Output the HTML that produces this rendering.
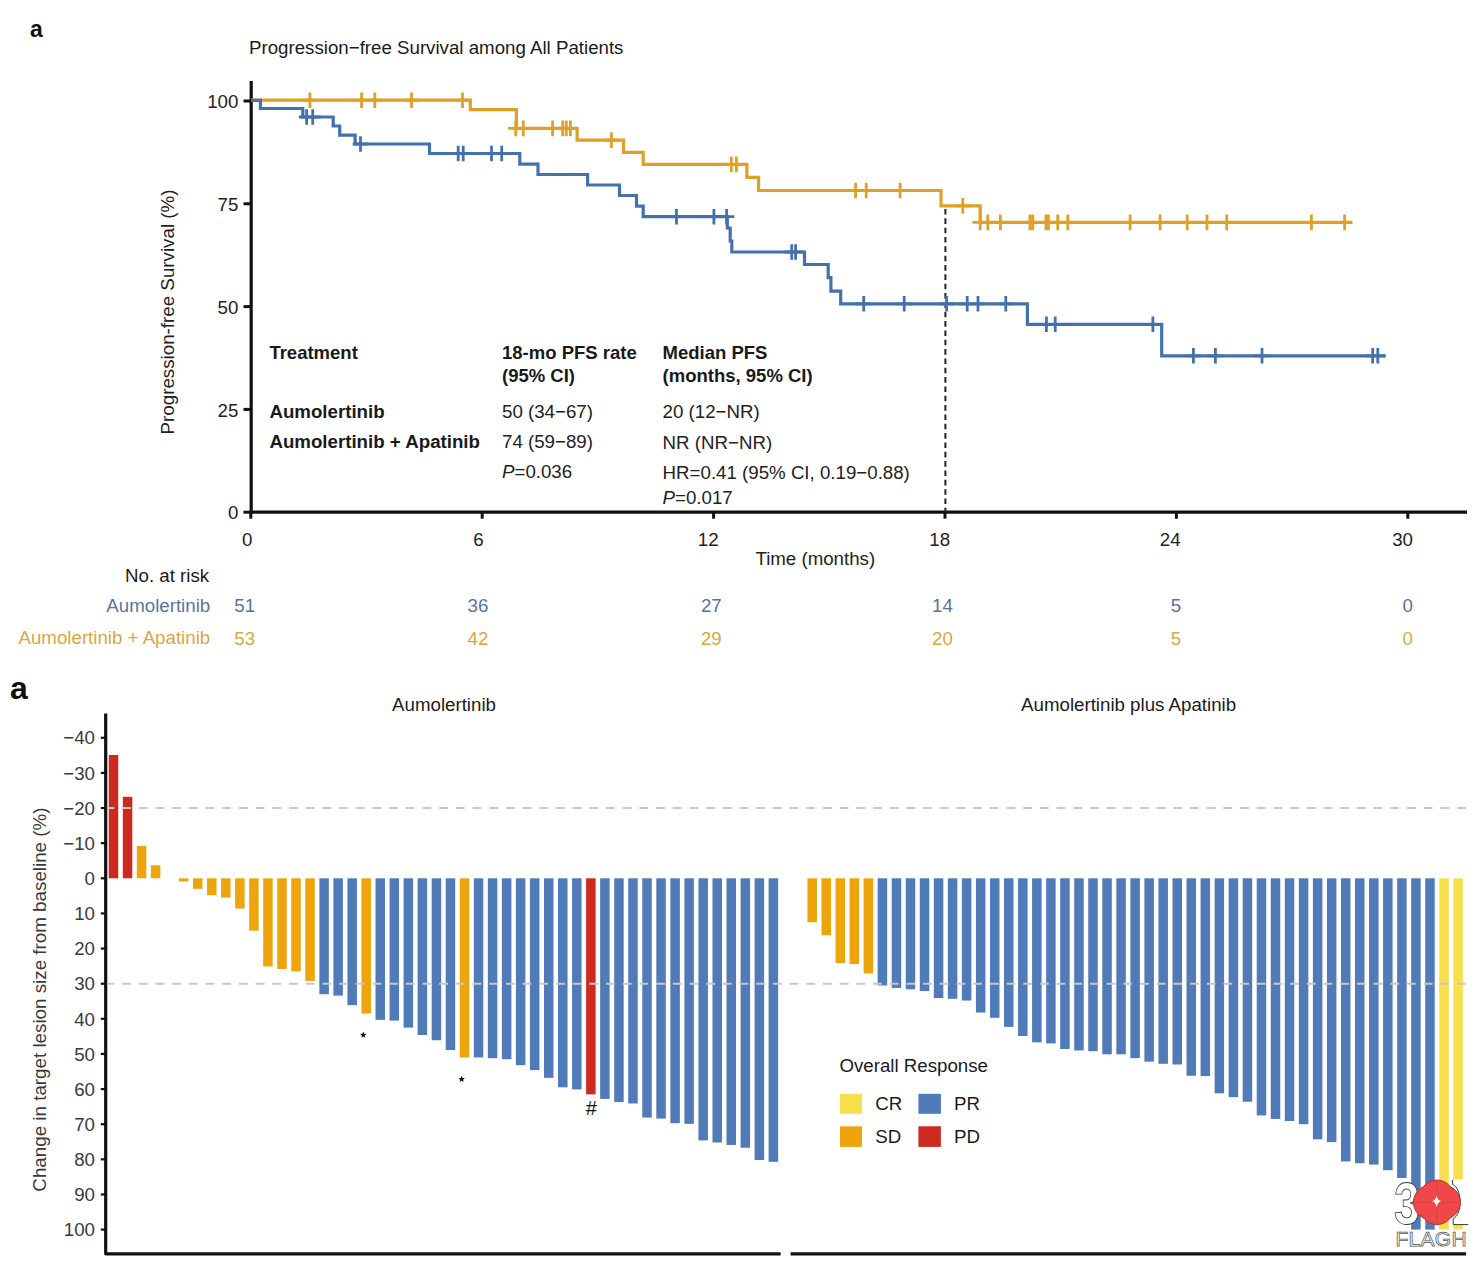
<!DOCTYPE html>
<html><head><meta charset="utf-8"><style>
html,body{margin:0;padding:0;background:#fff;}
svg{display:block;font-family:"Liberation Sans", sans-serif;}
</style></head><body>
<svg width="1484" height="1280" viewBox="0 0 1484 1280">
<rect width="1484" height="1280" fill="#fff"/>
<text x="30" y="37.2" font-size="23" text-anchor="start" font-weight="bold" fill="#111"  >a</text>
<text x="249" y="53.5" font-size="18.7" text-anchor="start" font-weight="normal" fill="#1a1a1a"  >Progression&#8722;free Survival among All Patients</text>
<line x1="251.2" y1="81" x2="251.2" y2="513.7" stroke="#111" stroke-width="3.2"/>
<line x1="249.7" y1="512.2" x2="1467" y2="512.2" stroke="#111" stroke-width="3.2"/>
<line x1="243.5" y1="101.0" x2="251.2" y2="101.0" stroke="#111" stroke-width="3"/>
<text x="238.4" y="108.2" font-size="18.7" text-anchor="end" font-weight="normal" fill="#222"  >100</text>
<line x1="243.5" y1="203.8" x2="251.2" y2="203.8" stroke="#111" stroke-width="3"/>
<text x="238.4" y="211.0" font-size="18.7" text-anchor="end" font-weight="normal" fill="#222"  >75</text>
<line x1="243.5" y1="306.6" x2="251.2" y2="306.6" stroke="#111" stroke-width="3"/>
<text x="238.4" y="313.8" font-size="18.7" text-anchor="end" font-weight="normal" fill="#222"  >50</text>
<line x1="243.5" y1="409.40000000000003" x2="251.2" y2="409.40000000000003" stroke="#111" stroke-width="3"/>
<text x="238.4" y="416.6" font-size="18.7" text-anchor="end" font-weight="normal" fill="#222"  >25</text>
<line x1="243.5" y1="512.2" x2="251.2" y2="512.2" stroke="#111" stroke-width="3"/>
<text x="238.4" y="519.4000000000001" font-size="18.7" text-anchor="end" font-weight="normal" fill="#222"  >0</text>
<line x1="250.8" y1="512.2" x2="250.8" y2="518.7" stroke="#111" stroke-width="3"/>
<text x="247.2" y="546.4" font-size="18.7" text-anchor="middle" font-weight="normal" fill="#222"  >0</text>
<line x1="482.20000000000005" y1="512.2" x2="482.20000000000005" y2="518.7" stroke="#111" stroke-width="3"/>
<text x="478.4" y="546.4" font-size="18.7" text-anchor="middle" font-weight="normal" fill="#222"  >6</text>
<line x1="713.6" y1="512.2" x2="713.6" y2="518.7" stroke="#111" stroke-width="3"/>
<text x="708.2" y="546.4" font-size="18.7" text-anchor="middle" font-weight="normal" fill="#222"  >12</text>
<line x1="945.0" y1="512.2" x2="945.0" y2="518.7" stroke="#111" stroke-width="3"/>
<text x="939.7" y="546.4" font-size="18.7" text-anchor="middle" font-weight="normal" fill="#222"  >18</text>
<line x1="1176.4" y1="512.2" x2="1176.4" y2="518.7" stroke="#111" stroke-width="3"/>
<text x="1170.2" y="546.4" font-size="18.7" text-anchor="middle" font-weight="normal" fill="#222"  >24</text>
<line x1="1407.8" y1="512.2" x2="1407.8" y2="518.7" stroke="#111" stroke-width="3"/>
<text x="1402.6" y="546.4" font-size="18.7" text-anchor="middle" font-weight="normal" fill="#222"  >30</text>
<text x="815.3" y="564.7" font-size="18.7" text-anchor="middle" font-weight="normal" fill="#222"  >Time (months)</text>
<text transform="translate(174.0,312.0) rotate(-90)" font-size="18.75" text-anchor="middle" fill="#222">Progression-free Survival (%)</text>
<line x1="945.4" y1="209" x2="945.4" y2="512.2" stroke="#222" stroke-width="2" stroke-dasharray="5.6,3.7375"/>
<path d="M251.2,100.2 L470.3,100.2 L470.3,109.6 L516.4,109.6 L516.4,128.4 L577.1,128.4 L577.1,140.1 L623.5,140.1 L623.5,152.3 L643.2,152.3 L643.2,164.4 L746.9,164.4 L746.9,177.4 L758.6,177.4 L758.6,190.5 L941,190.5 L941,205.9 L980.2,205.9 L980.2,222.4 L1352.2,222.4" stroke="#E0A026" stroke-width="3.2" fill="none"/>
<path d="M309.9,92.4V108.0M302.09999999999997,100.2H317.7M361.6,92.4V108.0M353.8,100.2H369.40000000000003M374.8,92.4V108.0M367.0,100.2H382.6M411.5,92.4V108.0M403.7,100.2H419.3M462.5,92.4V108.0M454.7,100.2H470.3M515.8,120.60000000000001V136.20000000000002M507.99999999999994,128.4H523.5999999999999M523.3,120.60000000000001V136.20000000000002M515.5,128.4H531.0999999999999M552.6,120.60000000000001V136.20000000000002M544.8000000000001,128.4H560.4M562.7,120.60000000000001V136.20000000000002M554.9000000000001,128.4H570.5M566.3,120.60000000000001V136.20000000000002M558.5,128.4H574.0999999999999M570.4,120.60000000000001V136.20000000000002M562.6,128.4H578.1999999999999M611.4,132.29999999999998V147.9M603.6,140.1H619.1999999999999M731.3,156.6V172.20000000000002M723.5,164.4H739.0999999999999M736.4,156.6V172.20000000000002M728.6,164.4H744.1999999999999M855.6,182.7V198.3M847.8000000000001,190.5H863.4M866.2,182.7V198.3M858.4000000000001,190.5H874.0M900.1,182.7V198.3M892.3000000000001,190.5H907.9M962.8,198.1V213.70000000000002M955.0,205.9H970.5999999999999M980.2,214.6V230.20000000000002M972.4000000000001,222.4H988.0M987.8,214.6V230.20000000000002M980.0,222.4H995.5999999999999M1000.4,214.6V230.20000000000002M992.6,222.4H1008.1999999999999M1029.9,214.6V230.20000000000002M1022.1000000000001,222.4H1037.7M1032.8,214.6V230.20000000000002M1025.0,222.4H1040.6M1045.9,214.6V230.20000000000002M1038.1000000000001,222.4H1053.7M1048.4,214.6V230.20000000000002M1040.6000000000001,222.4H1056.2M1057.7,214.6V230.20000000000002M1049.9,222.4H1065.5M1067.8,214.6V230.20000000000002M1060.0,222.4H1075.6M1130.1,214.6V230.20000000000002M1122.3,222.4H1137.8999999999999M1160.1,214.6V230.20000000000002M1152.3,222.4H1167.8999999999999M1187.2,214.6V230.20000000000002M1179.4,222.4H1195.0M1207,214.6V230.20000000000002M1199.2,222.4H1214.8M1226.7,214.6V230.20000000000002M1218.9,222.4H1234.5M1311.4,214.6V230.20000000000002M1303.6000000000001,222.4H1319.2M1344.6,214.6V230.20000000000002M1336.8,222.4H1352.3999999999999" stroke="#E0A026" stroke-width="2.8" fill="none"/>
<path d="M251.2,100.3 L260.4,100.3 L260.4,108.5 L302.8,108.5 L302.8,117.0 L333.2,117.0 L333.2,126.0 L339.7,126.0 L339.7,135.2 L355.1,135.2 L355.1,144.0 L429.5,144.0 L429.5,153.5 L519.8,153.5 L519.8,164.2 L538,164.2 L538,174.5 L587.6,174.5 L587.6,185 L619.5,185 L619.5,195.5 L636.5,195.5 L636.5,206.2 L643.2,206.2 L643.2,216.7 L727.3,216.7 L727.3,228 L730.2,228 L730.2,241 L731.8,241 L731.8,252.0 L804.5,252.0 L804.5,264.5 L828.2,264.5 L828.2,277.7 L830.9,277.7 L830.9,291.2 L840.7,291.2 L840.7,303.8 L1027.4,303.8 L1027.4,324.3 L1161.7,324.3 L1161.7,355.8 L1385.5,355.8" stroke="#4570AE" stroke-width="3.2" fill="none"/>
<path d="M306.6,109.2V124.8M298.8,117H314.40000000000003M312.7,109.2V124.8M304.9,117H320.5M360.5,136.2V151.8M352.7,144H368.3M458.2,145.7V161.3M450.4,153.5H466.0M463.2,145.7V161.3M455.4,153.5H471.0M491.5,145.7V161.3M483.7,153.5H499.3M501.7,145.7V161.3M493.9,153.5H509.5M676.5,208.89999999999998V224.5M668.7,216.7H684.3M713.9,208.89999999999998V224.5M706.1,216.7H721.6999999999999M726.6,208.89999999999998V224.5M718.8000000000001,216.7H734.4M791.7,244.2V259.8M783.9000000000001,252.0H799.5M795.6,244.2V259.8M787.8000000000001,252.0H803.4M863.7,296.0V311.6M855.9000000000001,303.8H871.5M904.2,296.0V311.6M896.4000000000001,303.8H912.0M946.6,296.0V311.6M938.8000000000001,303.8H954.4M967.2,296.0V311.6M959.4000000000001,303.8H975.0M978,296.0V311.6M970.2,303.8H985.8M1005.8,296.0V311.6M998.0,303.8H1013.5999999999999M1046.4,316.5V332.1M1038.6000000000001,324.3H1054.2M1055.2,316.5V332.1M1047.4,324.3H1063.0M1152.9,316.5V332.1M1145.1000000000001,324.3H1160.7M1193.4,348.0V363.6M1185.6000000000001,355.8H1201.2M1215.4,348.0V363.6M1207.6000000000001,355.8H1223.2M1262,348.0V363.6M1254.2,355.8H1269.8M1372.7,348.0V363.6M1364.9,355.8H1380.5M1377.8,348.0V363.6M1370.0,355.8H1385.6" stroke="#4570AE" stroke-width="2.8" fill="none"/>
<text x="269.4" y="359.1" font-size="18.5" text-anchor="start" font-weight="bold" fill="#1a1a1a"  >Treatment</text>
<text x="502" y="359.1" font-size="18.5" text-anchor="start" font-weight="bold" fill="#1a1a1a"  >18-mo PFS rate</text>
<text x="502" y="381.5" font-size="18.5" text-anchor="start" font-weight="bold" fill="#1a1a1a"  >(95% CI)</text>
<text x="662.6" y="359.1" font-size="18.5" text-anchor="start" font-weight="bold" fill="#1a1a1a"  >Median PFS</text>
<text x="662.6" y="381.8" font-size="18.5" text-anchor="start" font-weight="bold" fill="#1a1a1a"  >(months, 95% CI)</text>
<text x="269.4" y="417.6" font-size="18.7" text-anchor="start" font-weight="bold" fill="#1a1a1a"  >Aumolertinib</text>
<text x="269.4" y="448.1" font-size="18.7" text-anchor="start" font-weight="bold" fill="#1a1a1a"  >Aumolertinib + Apatinib</text>
<text x="502" y="417.8" font-size="18.7" text-anchor="start" font-weight="normal" fill="#222"  >50 (34&#8722;67)</text>
<text x="502" y="448.2" font-size="18.7" text-anchor="start" font-weight="normal" fill="#222"  >74 (59&#8722;89)</text>
<text x="502" y="477.8" font-size="18.7" fill="#222"><tspan font-style="italic">P</tspan>=0.036</text>
<text x="662.6" y="418.4" font-size="18.7" text-anchor="start" font-weight="normal" fill="#222"  >20 (12&#8722;NR)</text>
<text x="662.6" y="448.6" font-size="18.7" text-anchor="start" font-weight="normal" fill="#222"  >NR (NR&#8722;NR)</text>
<text x="662.6" y="478.8" font-size="18.7" text-anchor="start" font-weight="normal" fill="#222"  >HR=0.41 (95% CI, 0.19&#8722;0.88)</text>
<text x="662.6" y="504.2" font-size="18.7" fill="#222"><tspan font-style="italic">P</tspan>=0.017</text>
<text x="209.2" y="581.7" font-size="18.7" text-anchor="end" font-weight="normal" fill="#1a1a1a"  >No. at risk</text>
<text x="210.2" y="612.4" font-size="18.7" text-anchor="end" font-weight="normal" fill="#56749E"  >Aumolertinib</text>
<text x="210.2" y="644.0" font-size="18.7" text-anchor="end" font-weight="normal" fill="#D6A842"  >Aumolertinib + Apatinib</text>
<text x="244.7" y="612.4" font-size="18.7" text-anchor="middle" font-weight="normal" fill="#56749E"  >51</text>
<text x="244.7" y="644.8" font-size="18.7" text-anchor="middle" font-weight="normal" fill="#D6A842"  >53</text>
<text x="478" y="612.4" font-size="18.7" text-anchor="middle" font-weight="normal" fill="#56749E"  >36</text>
<text x="478" y="644.8" font-size="18.7" text-anchor="middle" font-weight="normal" fill="#D6A842"  >42</text>
<text x="711.3" y="612.4" font-size="18.7" text-anchor="middle" font-weight="normal" fill="#56749E"  >27</text>
<text x="711.3" y="644.8" font-size="18.7" text-anchor="middle" font-weight="normal" fill="#D6A842"  >29</text>
<text x="942.5" y="612.4" font-size="18.7" text-anchor="middle" font-weight="normal" fill="#56749E"  >14</text>
<text x="942.5" y="644.8" font-size="18.7" text-anchor="middle" font-weight="normal" fill="#D6A842"  >20</text>
<text x="1175.9" y="612.4" font-size="18.7" text-anchor="middle" font-weight="normal" fill="#56749E"  >5</text>
<text x="1175.9" y="644.8" font-size="18.7" text-anchor="middle" font-weight="normal" fill="#D6A842"  >5</text>
<text x="1407.7" y="612.4" font-size="18.7" text-anchor="middle" font-weight="normal" fill="#56749E"  >0</text>
<text x="1407.7" y="644.8" font-size="18.7" text-anchor="middle" font-weight="normal" fill="#D6A842"  >0</text>
<text x="10" y="699.3" font-size="32" text-anchor="start" font-weight="bold" fill="#111"  >a</text>
<path d="M105.7,713.5 V1253.8 H780.6" fill="none" stroke="#111" stroke-width="3.2" stroke-linejoin="round"/>
<line x1="100.8" y1="737.78" x2="105.7" y2="737.78" stroke="#111" stroke-width="2.2"/>
<text x="95.0" y="744.48" font-size="18.7" text-anchor="end" font-weight="normal" fill="#3a3a3a"  >&#8722;40</text>
<line x1="100.8" y1="772.91" x2="105.7" y2="772.91" stroke="#111" stroke-width="2.2"/>
<text x="95.0" y="779.61" font-size="18.7" text-anchor="end" font-weight="normal" fill="#3a3a3a"  >&#8722;30</text>
<line x1="100.8" y1="808.04" x2="105.7" y2="808.04" stroke="#111" stroke-width="2.2"/>
<text x="95.0" y="814.74" font-size="18.7" text-anchor="end" font-weight="normal" fill="#3a3a3a"  >&#8722;20</text>
<line x1="100.8" y1="843.17" x2="105.7" y2="843.17" stroke="#111" stroke-width="2.2"/>
<text x="95.0" y="849.87" font-size="18.7" text-anchor="end" font-weight="normal" fill="#3a3a3a"  >&#8722;10</text>
<line x1="100.8" y1="878.3" x2="105.7" y2="878.3" stroke="#111" stroke-width="2.2"/>
<text x="95.0" y="885.0" font-size="18.7" text-anchor="end" font-weight="normal" fill="#3a3a3a"  >0</text>
<line x1="100.8" y1="913.43" x2="105.7" y2="913.43" stroke="#111" stroke-width="2.2"/>
<text x="95.0" y="920.13" font-size="18.7" text-anchor="end" font-weight="normal" fill="#3a3a3a"  >10</text>
<line x1="100.8" y1="948.56" x2="105.7" y2="948.56" stroke="#111" stroke-width="2.2"/>
<text x="95.0" y="955.26" font-size="18.7" text-anchor="end" font-weight="normal" fill="#3a3a3a"  >20</text>
<line x1="100.8" y1="983.6899999999999" x2="105.7" y2="983.6899999999999" stroke="#111" stroke-width="2.2"/>
<text x="95.0" y="990.39" font-size="18.7" text-anchor="end" font-weight="normal" fill="#3a3a3a"  >30</text>
<line x1="100.8" y1="1018.8199999999999" x2="105.7" y2="1018.8199999999999" stroke="#111" stroke-width="2.2"/>
<text x="95.0" y="1025.52" font-size="18.7" text-anchor="end" font-weight="normal" fill="#3a3a3a"  >40</text>
<line x1="100.8" y1="1053.95" x2="105.7" y2="1053.95" stroke="#111" stroke-width="2.2"/>
<text x="95.0" y="1060.65" font-size="18.7" text-anchor="end" font-weight="normal" fill="#3a3a3a"  >50</text>
<line x1="100.8" y1="1089.08" x2="105.7" y2="1089.08" stroke="#111" stroke-width="2.2"/>
<text x="95.0" y="1095.78" font-size="18.7" text-anchor="end" font-weight="normal" fill="#3a3a3a"  >60</text>
<line x1="100.8" y1="1124.21" x2="105.7" y2="1124.21" stroke="#111" stroke-width="2.2"/>
<text x="95.0" y="1130.91" font-size="18.7" text-anchor="end" font-weight="normal" fill="#3a3a3a"  >70</text>
<line x1="100.8" y1="1159.34" x2="105.7" y2="1159.34" stroke="#111" stroke-width="2.2"/>
<text x="95.0" y="1166.04" font-size="18.7" text-anchor="end" font-weight="normal" fill="#3a3a3a"  >80</text>
<line x1="100.8" y1="1194.47" x2="105.7" y2="1194.47" stroke="#111" stroke-width="2.2"/>
<text x="95.0" y="1201.17" font-size="18.7" text-anchor="end" font-weight="normal" fill="#3a3a3a"  >90</text>
<line x1="100.8" y1="1229.6" x2="105.7" y2="1229.6" stroke="#111" stroke-width="2.2"/>
<text x="95.0" y="1236.3" font-size="18.7" text-anchor="end" font-weight="normal" fill="#3a3a3a"  >100</text>
<text transform="translate(45.9,999.6) rotate(-90)" font-size="18.8" text-anchor="middle" fill="#3a3a3a">Change in target lesion size from baseline (%)</text>
<line x1="790.6" y1="1253.8" x2="1466" y2="1253.8" stroke="#111" stroke-width="3.2"/>
<text x="444" y="711.1" font-size="18.7" text-anchor="middle" font-weight="normal" fill="#1a1a1a"  >Aumolertinib</text>
<text x="1128.6" y="711.2" font-size="18.7" text-anchor="middle" font-weight="normal" fill="#1a1a1a"  >Aumolertinib plus Apatinib</text>
<rect x="108.75" y="754.99" width="9.5" height="123.31" fill="#CC2A20"/>
<rect x="122.79" y="796.80" width="9.5" height="81.50" fill="#CC2A20"/>
<rect x="136.83" y="845.98" width="9.5" height="32.32" fill="#EEA40C"/>
<rect x="150.87" y="865.30" width="9.5" height="13.00" fill="#EEA40C"/>
<rect x="178.95" y="878.30" width="9.5" height="3.16" fill="#EEA40C"/>
<rect x="192.99" y="878.30" width="9.5" height="10.54" fill="#EEA40C"/>
<rect x="207.03" y="878.30" width="9.5" height="16.86" fill="#EEA40C"/>
<rect x="221.07" y="878.30" width="9.5" height="19.32" fill="#EEA40C"/>
<rect x="235.11" y="878.30" width="9.5" height="30.21" fill="#EEA40C"/>
<rect x="249.15" y="878.30" width="9.5" height="52.34" fill="#EEA40C"/>
<rect x="263.19" y="878.30" width="9.5" height="88.18" fill="#EEA40C"/>
<rect x="277.23" y="878.30" width="9.5" height="90.64" fill="#EEA40C"/>
<rect x="291.27" y="878.30" width="9.5" height="93.09" fill="#EEA40C"/>
<rect x="305.31" y="878.30" width="9.5" height="102.58" fill="#EEA40C"/>
<rect x="319.35" y="878.30" width="9.5" height="115.93" fill="#507AB8"/>
<rect x="333.39" y="878.30" width="9.5" height="117.33" fill="#507AB8"/>
<rect x="347.43" y="878.30" width="9.5" height="126.82" fill="#507AB8"/>
<rect x="361.47" y="878.30" width="9.5" height="135.25" fill="#EEA40C"/>
<rect x="375.51" y="878.30" width="9.5" height="141.57" fill="#507AB8"/>
<rect x="389.55" y="878.30" width="9.5" height="142.28" fill="#507AB8"/>
<rect x="403.59" y="878.30" width="9.5" height="149.30" fill="#507AB8"/>
<rect x="417.63" y="878.30" width="9.5" height="156.68" fill="#507AB8"/>
<rect x="431.67" y="878.30" width="9.5" height="161.95" fill="#507AB8"/>
<rect x="445.71" y="878.30" width="9.5" height="171.79" fill="#507AB8"/>
<rect x="459.75" y="878.30" width="9.5" height="179.16" fill="#EEA40C"/>
<rect x="473.79" y="878.30" width="9.5" height="179.16" fill="#507AB8"/>
<rect x="487.83" y="878.30" width="9.5" height="179.87" fill="#507AB8"/>
<rect x="501.87" y="878.30" width="9.5" height="180.92" fill="#507AB8"/>
<rect x="515.91" y="878.30" width="9.5" height="186.89" fill="#507AB8"/>
<rect x="529.95" y="878.30" width="9.5" height="191.81" fill="#507AB8"/>
<rect x="543.99" y="878.30" width="9.5" height="199.54" fill="#507AB8"/>
<rect x="558.03" y="878.30" width="9.5" height="209.02" fill="#507AB8"/>
<rect x="572.07" y="878.30" width="9.5" height="211.13" fill="#507AB8"/>
<rect x="586.11" y="878.30" width="9.5" height="216.05" fill="#CC2A20"/>
<rect x="600.15" y="878.30" width="9.5" height="220.62" fill="#507AB8"/>
<rect x="614.19" y="878.30" width="9.5" height="223.78" fill="#507AB8"/>
<rect x="628.23" y="878.30" width="9.5" height="225.18" fill="#507AB8"/>
<rect x="642.27" y="878.30" width="9.5" height="239.24" fill="#507AB8"/>
<rect x="656.31" y="878.30" width="9.5" height="240.29" fill="#507AB8"/>
<rect x="670.35" y="878.30" width="9.5" height="244.86" fill="#507AB8"/>
<rect x="684.39" y="878.30" width="9.5" height="245.56" fill="#507AB8"/>
<rect x="698.43" y="878.30" width="9.5" height="262.07" fill="#507AB8"/>
<rect x="712.47" y="878.30" width="9.5" height="264.18" fill="#507AB8"/>
<rect x="726.51" y="878.30" width="9.5" height="266.64" fill="#507AB8"/>
<rect x="740.55" y="878.30" width="9.5" height="269.45" fill="#507AB8"/>
<rect x="754.59" y="878.30" width="9.5" height="281.74" fill="#507AB8"/>
<rect x="768.63" y="878.30" width="9.5" height="283.50" fill="#507AB8"/>
<rect x="807.45" y="878.30" width="9.5" height="43.91" fill="#EEA40C"/>
<rect x="821.49" y="878.30" width="9.5" height="56.91" fill="#EEA40C"/>
<rect x="835.53" y="878.30" width="9.5" height="84.66" fill="#EEA40C"/>
<rect x="849.57" y="878.30" width="9.5" height="85.72" fill="#EEA40C"/>
<rect x="863.61" y="878.30" width="9.5" height="95.20" fill="#EEA40C"/>
<rect x="877.65" y="878.30" width="9.5" height="107.15" fill="#507AB8"/>
<rect x="891.69" y="878.30" width="9.5" height="109.61" fill="#507AB8"/>
<rect x="905.73" y="878.30" width="9.5" height="111.01" fill="#507AB8"/>
<rect x="919.77" y="878.30" width="9.5" height="112.77" fill="#507AB8"/>
<rect x="933.81" y="878.30" width="9.5" height="119.79" fill="#507AB8"/>
<rect x="947.85" y="878.30" width="9.5" height="120.50" fill="#507AB8"/>
<rect x="961.89" y="878.30" width="9.5" height="122.25" fill="#507AB8"/>
<rect x="975.93" y="878.30" width="9.5" height="134.20" fill="#507AB8"/>
<rect x="989.97" y="878.30" width="9.5" height="139.47" fill="#507AB8"/>
<rect x="1004.01" y="878.30" width="9.5" height="148.60" fill="#507AB8"/>
<rect x="1018.05" y="878.30" width="9.5" height="157.73" fill="#507AB8"/>
<rect x="1032.09" y="878.30" width="9.5" height="164.06" fill="#507AB8"/>
<rect x="1046.13" y="878.30" width="9.5" height="165.11" fill="#507AB8"/>
<rect x="1060.17" y="878.30" width="9.5" height="170.73" fill="#507AB8"/>
<rect x="1074.21" y="878.30" width="9.5" height="172.14" fill="#507AB8"/>
<rect x="1088.25" y="878.30" width="9.5" height="172.84" fill="#507AB8"/>
<rect x="1102.29" y="878.30" width="9.5" height="176.00" fill="#507AB8"/>
<rect x="1116.33" y="878.30" width="9.5" height="176.00" fill="#507AB8"/>
<rect x="1130.37" y="878.30" width="9.5" height="179.87" fill="#507AB8"/>
<rect x="1144.41" y="878.30" width="9.5" height="183.38" fill="#507AB8"/>
<rect x="1158.45" y="878.30" width="9.5" height="185.49" fill="#507AB8"/>
<rect x="1172.49" y="878.30" width="9.5" height="186.19" fill="#507AB8"/>
<rect x="1186.53" y="878.30" width="9.5" height="197.43" fill="#507AB8"/>
<rect x="1200.57" y="878.30" width="9.5" height="197.78" fill="#507AB8"/>
<rect x="1214.61" y="878.30" width="9.5" height="215.00" fill="#507AB8"/>
<rect x="1228.65" y="878.30" width="9.5" height="218.86" fill="#507AB8"/>
<rect x="1242.69" y="878.30" width="9.5" height="223.43" fill="#507AB8"/>
<rect x="1256.73" y="878.30" width="9.5" height="237.13" fill="#507AB8"/>
<rect x="1270.77" y="878.30" width="9.5" height="240.64" fill="#507AB8"/>
<rect x="1284.81" y="878.30" width="9.5" height="242.75" fill="#507AB8"/>
<rect x="1298.85" y="878.30" width="9.5" height="245.91" fill="#507AB8"/>
<rect x="1312.89" y="878.30" width="9.5" height="261.02" fill="#507AB8"/>
<rect x="1326.93" y="878.30" width="9.5" height="263.83" fill="#507AB8"/>
<rect x="1340.97" y="878.30" width="9.5" height="283.15" fill="#507AB8"/>
<rect x="1355.01" y="878.30" width="9.5" height="284.90" fill="#507AB8"/>
<rect x="1369.05" y="878.30" width="9.5" height="286.31" fill="#507AB8"/>
<rect x="1383.09" y="878.30" width="9.5" height="291.93" fill="#507AB8"/>
<rect x="1397.13" y="878.30" width="9.5" height="299.66" fill="#507AB8"/>
<rect x="1411.17" y="878.30" width="9.5" height="351.30" fill="#507AB8"/>
<rect x="1425.21" y="878.30" width="9.5" height="351.30" fill="#507AB8"/>
<rect x="1439.25" y="878.30" width="9.5" height="351.30" fill="#F7E04C"/>
<rect x="1453.29" y="878.30" width="9.5" height="351.30" fill="#F7E04C"/>
<line x1="107" y1="808.04" x2="1466" y2="808.04" stroke="#c8c8c8" stroke-width="1.9" stroke-dasharray="8.8,7.886" stroke-dashoffset="1.5"/>
<line x1="107" y1="983.6899999999999" x2="1466" y2="983.6899999999999" stroke="#c8c8c8" stroke-width="1.9" stroke-dasharray="8.8,7.886" stroke-dashoffset="1.5"/>
<polygon points="363.30,1031.60 364.15,1033.83 366.53,1033.95 364.68,1035.45 365.30,1037.75 363.30,1036.45 361.30,1037.75 361.92,1035.45 360.07,1033.95 362.45,1033.83" fill="#111"/>
<polygon points="461.70,1075.80 462.55,1078.03 464.93,1078.15 463.08,1079.65 463.70,1081.95 461.70,1080.65 459.70,1081.95 460.32,1079.65 458.47,1078.15 460.85,1078.03" fill="#111"/>
<text x="591.4" y="1115.3" font-size="20" text-anchor="middle" font-weight="normal" fill="#111"  >#</text>
<text x="839.4" y="1071.9" font-size="18.7" text-anchor="start" font-weight="normal" fill="#1a1a1a"  >Overall Response</text>
<rect x="840" y="1093.8" width="22" height="20" fill="#F7E04C"/>
<rect x="840" y="1126.3" width="22" height="20.6" fill="#EEA40C"/>
<rect x="918.4" y="1093.8" width="22.5" height="20" fill="#507AB8"/>
<rect x="918.4" y="1126.3" width="22.5" height="20.6" fill="#CC2A20"/>
<text x="875.3" y="1110.2" font-size="18.7" text-anchor="start" font-weight="normal" fill="#1a1a1a"  >CR</text>
<text x="875.3" y="1143" font-size="18.7" text-anchor="start" font-weight="normal" fill="#1a1a1a"  >SD</text>
<text x="954" y="1110.2" font-size="18.7" text-anchor="start" font-weight="normal" fill="#1a1a1a"  >PR</text>
<text x="954" y="1143" font-size="18.7" text-anchor="start" font-weight="normal" fill="#1a1a1a"  >PD</text>
<g>
<path d="M1452.4,1179.5 H1470 V1224.6 H1452.4 Z" fill="#fff"/>
<path d="M1452.6,1180 V1184.5 C1462.5,1188 1462.5,1215 1453.2,1218.5 V1224.6 H1468.2" fill="none" stroke="#3a3a3a" stroke-width="1"/>
<text x="1406.8" y="1223.9" font-size="59" font-weight="bold" text-anchor="middle" fill="#fff" stroke="#3a3a3a" stroke-width="0.9" transform="translate(1406.8,0) scale(0.78,1) translate(-1406.8,0)">3</text>
<g fill="#F04848" stroke="#A83030" stroke-width="0.9"><circle cx="1430.4" cy="1202.3" r="17"/><circle cx="1443.4" cy="1202.3" r="17"/><circle cx="1436.9" cy="1196.8" r="16.8"/><circle cx="1436.9" cy="1207.8" r="16.8"/></g>
<circle cx="1436.9" cy="1202.3" r="20.2" fill="#F04848"/>
<path d="M1436.9,1181.3V1223.3M1414.9,1202.3H1458.9" stroke="#C83A3A" stroke-width="0.8" opacity="0.5"/>
<path d="M1436.6,1195.3 Q1437.3999999999999,1200.5 1441.1,1201.3 Q1437.3999999999999,1202.1 1436.6,1207.3 Q1435.8,1202.1 1432.1,1201.3 Q1435.8,1200.5 1436.6,1195.3 Z" fill="#fff"/>
<text x="1431.2" y="1246.4" font-size="21" text-anchor="middle" fill="#fff" stroke="#555" stroke-width="0.75" letter-spacing="0.3">FLAGH</text>
</g>
</svg>
</body></html>
